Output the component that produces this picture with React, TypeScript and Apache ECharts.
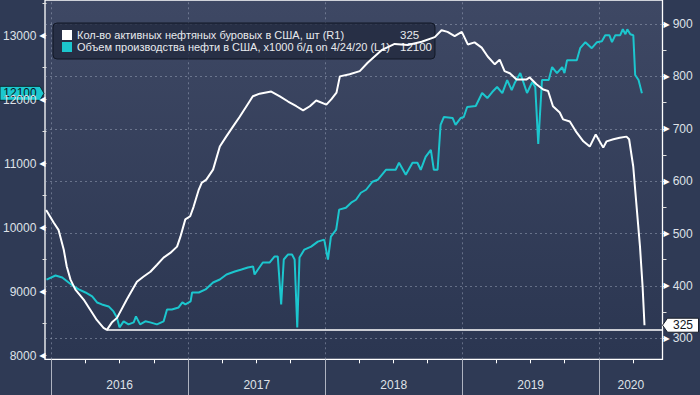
import React, { useEffect, useRef } from 'react';
import * as echarts from 'echarts';

// ---------- DATA ----------
const RIG_NAME = 'Кол-во активных нефтяных буровых в США, шт (R1)';
const PROD_NAME = 'Объем производства нефти в США, x1000 б/д on 4/24/20 (L1)';

const rigDates = [
  '2015-12-19', '2016-01-08', '2016-01-21', '2016-02-04', '2016-02-12', '2016-02-22', '2016-03-06', '2016-03-28',
  '2016-04-15', '2016-05-02', '2016-05-20', '2016-05-29', '2016-06-11', '2016-06-25', '2016-07-21', '2016-08-17',
  '2016-09-04', '2016-09-22', '2016-10-09', '2016-10-27', '2016-11-14', '2016-12-02', '2016-12-11', '2016-12-24',
  '2017-01-06', '2017-01-15', '2017-01-29', '2017-02-06', '2017-02-18', '2017-03-08', '2017-03-26', '2017-04-12',
  '2017-04-30', '2017-05-18', '2017-06-05', '2017-06-22', '2017-07-10', '2017-08-10', '2017-09-02', '2017-09-24',
  '2017-10-16', '2017-11-03', '2017-11-21', '2017-12-08', '2018-01-04', '2018-01-17', '2018-01-31', '2018-02-09',
  '2018-03-07', '2018-04-03', '2018-04-24', '2018-05-31', '2018-07-05', '2018-08-09', '2018-09-15', '2018-10-20',
  '2018-11-07', '2018-11-23', '2018-12-12', '2018-12-31', '2019-01-16', '2019-02-03', '2019-02-22', '2019-03-10',
  '2019-03-29', '2019-04-11', '2019-04-24', '2019-05-08', '2019-05-26', '2019-06-21', '2019-06-30', '2019-07-18',
  '2019-08-05', '2019-08-18', '2019-08-31', '2019-09-18', '2019-09-27', '2019-10-15', '2019-11-02', '2019-11-20',
  '2019-12-07', '2019-12-23', '2020-01-12', '2020-01-21', '2020-02-08', '2020-02-25', '2020-03-14', '2020-03-21',
  '2020-04-01', '2020-04-10', '2020-04-19', '2020-04-26', '2020-05-01'
];
const rigValues = [
  545, 521, 507, 469, 437, 412, 393, 374,
  354, 335, 320, 316, 330, 339, 374, 408,
  418, 427, 440, 454, 463, 475, 494, 527,
  533, 551, 584, 597, 603, 622, 666, 685,
  704, 723, 743, 762, 767, 771, 762, 752,
  743, 735, 743, 754, 746, 756, 769, 800,
  804, 810, 826, 850, 862, 860, 866, 875,
  888, 885, 877, 885, 861, 865, 855, 838,
  823, 832, 810, 806, 794, 794, 798, 785,
  775, 772, 743, 731, 718, 714, 693, 676,
  666, 689, 664, 676, 680, 683, 685, 680,
  628, 551, 475, 398, 325
];

const prodDates = [
  '2015-12-16', '2016-01-09', '2016-01-27', '2016-02-13', '2016-02-27', '2016-03-11', '2016-03-29', '2016-04-16',
  '2016-04-29', '2016-05-12', '2016-05-30', '2016-06-12', '2016-06-21', '2016-06-28', '2016-07-09', '2016-07-22',
  '2016-08-05', '2016-08-11', '2016-08-22', '2016-09-05', '2016-09-18', '2016-10-06', '2016-10-24', '2016-11-02',
  '2016-11-15', '2016-12-03', '2016-12-13', '2016-12-21', '2017-01-04', '2017-01-08', '2017-01-26', '2017-02-13',
  '2017-03-05', '2017-03-23', '2017-04-10', '2017-05-02', '2017-05-20', '2017-06-06', '2017-06-20', '2017-06-24',
  '2017-07-03', '2017-07-16', '2017-08-03', '2017-08-16', '2017-08-25', '2017-09-03', '2017-09-10', '2017-09-21',
  '2017-10-02', '2017-10-09', '2017-10-16', '2017-10-22', '2017-11-04', '2017-11-22', '2017-12-10', '2017-12-27',
  '2018-01-06', '2018-01-14', '2018-01-28', '2018-02-05', '2018-02-23', '2018-03-09', '2018-03-22', '2018-04-04',
  '2018-04-18', '2018-05-05', '2018-05-19', '2018-06-10', '2018-07-06', '2018-07-15', '2018-08-02', '2018-08-20',
  '2018-09-02', '2018-09-11', '2018-09-24', '2018-10-08', '2018-10-16', '2018-10-26', '2018-11-03', '2018-11-12',
  '2018-12-05', '2018-12-13', '2018-12-27', '2019-01-04', '2019-01-13', '2019-02-05', '2019-02-22', '2019-03-08',
  '2019-03-21', '2019-04-03', '2019-04-17', '2019-04-30', '2019-05-12', '2019-05-20', '2019-06-04', '2019-06-22',
  '2019-07-06', '2019-07-14', '2019-07-22', '2019-08-01', '2019-08-19', '2019-08-28', '2019-09-10', '2019-09-24',
  '2019-09-30', '2019-10-07', '2019-11-02', '2019-11-11', '2019-11-25', '2019-12-12', '2019-12-26', '2020-01-08',
  '2020-01-17', '2020-01-28', '2020-02-04', '2020-02-13', '2020-02-26', '2020-03-04', '2020-03-11', '2020-03-16',
  '2020-03-24', '2020-04-01', '2020-04-06', '2020-04-15', '2020-04-24'
];
const prodValues = [
  9190, 9253, 9222, 9144, 9082, 9035, 8988, 8926,
  8832, 8801, 8770, 8692, 8598, 8443, 8537, 8490,
  8521, 8614, 8490, 8537, 8521, 8490, 8537, 8723,
  8723, 8754, 8832, 8801, 8848, 8988, 8988, 9035,
  9144, 9191, 9269, 9315, 9347, 9378, 9393, 9269,
  9347, 9456, 9456, 9549, 9549, 8801, 9503, 9581,
  9581, 9503, 8443, 9534, 9658, 9705, 9783, 9814,
  9503, 9861, 9970, 10282, 10313, 10391, 10437, 10546,
  10593, 10718, 10749, 10905, 10905, 11014, 10827, 11014,
  11014, 10905, 11107, 11216, 10905, 10905, 11606, 11730,
  11715, 11606, 11715, 11730, 11886, 11902, 12104, 12026,
  12120, 12198, 12104, 12307, 12150, 12260, 12416, 12104,
  12276, 12198, 11310, 12307, 12307, 12510, 12416, 12510,
  12416, 12618, 12618, 12805, 12899, 12805, 12899, 12914,
  13008, 13008, 12899, 13008, 13008, 13101, 13023, 13101,
  13023, 13008, 12385, 12307, 12100
];

const RIG_LAST = 325;
const PROD_LAST = 12100;
const RIG_LOW_DATE = '2016-05-29';
const RIG_LOW = 316;

const X_MIN = '2015-12-16';
const X_MAX = '2020-06-18';
const yearStarts = ['2016-01-01', '2017-01-01', '2018-01-01', '2019-01-01', '2020-01-01', '2021-01-01'];

const LEFT_MIN = 8000;
const LEFT_MAX = 13500;
const LEFT_STEP = 500;
const LEFT_LABEL_STEP = 1000;
const RIGHT_MIN = 300;
const RIGHT_MAX = 900;
const RIGHT_STEP = 100;

// ---------- helpers ----------
const ts = (s: string) => {
  const [y, m, d] = s.split('-').map(Number);
  return Date.UTC(y, m - 1, d);
};
const FONT = "'Liberation Sans', Arial, sans-serif";
const LABEL_COLOR = '#dfe2e8';
const GRID_LINE = 'rgba(170,180,200,0.45)';
const LEGEND_FS = 11;

export default function App() {
  const ref = useRef<HTMLDivElement>(null);

  useEffect(() => {
    document.body.style.margin = '0';
    document.body.style.background = '#2f3a55';
    if (!ref.current) return;
    const chart = echarts.init(ref.current, undefined, { renderer: 'svg' });

    const xMin = ts(X_MIN);
    const xMax = ts(X_MAX);
    const yStarts = yearStarts.map(ts);
    const yearTicks = yStarts.filter((t) => t >= xMin && t <= xMax);
    const quarterTicks: number[] = [];
    yearStarts.forEach((s) => {
      const y = Number(s.slice(0, 4));
      [0, 3, 6, 9].forEach((m) => {
        const t = Date.UTC(y, m, 1);
        if (t > xMin && t < xMax) quarterTicks.push(t);
      });
    });
    const yearMids: number[] = [];
    for (let i = 0; i < yStarts.length - 1; i++) {
      const a = Math.max(yStarts[i], xMin);
      const b = Math.min(yStarts[i + 1], xMax);
      if (b > a) yearMids.push((a + b) / 2);
    }

    const rigData = rigDates.map((d, i) => [ts(d), rigValues[i]]);
    const prodData = prodDates.map((d, i) => [ts(d), prodValues[i]]);

    const plotBg = new echarts.graphic.LinearGradient(0, 0, 0, 1, [
      { offset: 0, color: '#3e4864' },
      { offset: 1, color: '#2b3651' },
    ]);

    const hiddenX = (gridIndex: number) => ({
      type: 'value', gridIndex, min: xMin, max: xMax, show: false,
    });

    const option: any = {
      animation: false,
      backgroundColor: '#2f3a55',
      textStyle: { fontFamily: FONT },
      grid: [
        { left: 45, right: 37.5, top: 3.7, bottom: 39.3, show: false },
        { left: 45, right: 37.5, top: 24, bottom: 56.7, show: false },
        {
          left: 45, right: 37.5, top: -5, bottom: 35.7, show: true,
          borderColor: '#ffffff', borderWidth: 1.3, backgroundColor: plotBg,
        },
      ],
      xAxis: [
        hiddenX(0),
        hiddenX(1),
        {
          type: 'value', gridIndex: 2, min: xMin, max: xMax, position: 'bottom',
          axisLine: { show: false },
          axisTick: { show: true, length: 4, inside: false, customValues: quarterTicks, lineStyle: { color: '#ffffff', width: 1 } },
          axisLabel: { show: false },
          splitLine: { show: false },
        },
        {
          type: 'value', gridIndex: 2, min: xMin, max: xMax, position: 'bottom',
          axisLine: { show: false },
          axisTick: { show: true, length: 36, inside: false, customValues: yearTicks, lineStyle: { color: '#aeb3c0', width: 1 } },
          axisLabel: {
            show: true, customValues: yearMids, margin: 20, color: LABEL_COLOR, fontSize: 12, fontFamily: FONT,
            formatter: (v: number) => String(new Date(v).getUTCFullYear()),
          },
          splitLine: { show: false },
        },
        {
          type: 'value', gridIndex: 2, min: xMin, max: xMax, position: 'bottom',
          axisLine: { show: false },
          axisTick: { show: true, length: 364, inside: true, customValues: yearTicks, lineStyle: { color: GRID_LINE, width: 1, type: [2, 3] } },
          axisLabel: { show: false },
          splitLine: { show: false },
        },
      ],
      yAxis: [
        {
          type: 'value', gridIndex: 0, position: 'left', min: LEFT_MIN, max: LEFT_MAX, interval: LEFT_STEP,
          axisLine: { show: false },
          axisTick: { show: true, length: 4, lineStyle: { color: '#e0e0e0' } },
          splitLine: { show: false },
          axisLabel: {
            margin: 1, color: LABEL_COLOR, fontSize: 12, fontFamily: FONT,
            formatter: (v: number) => (v % LEFT_LABEL_STEP === 0 ? `${v}{t|◀}` : ''),
            rich: { t: { fontSize: 8, fontFamily: 'DejaVu Sans', color: '#ffffff', padding: [0, 0, 0, 3], verticalAlign: 'middle' } },
          },
        },
        {
          type: 'value', gridIndex: 1, position: 'right', min: RIGHT_MIN, max: RIGHT_MAX, interval: RIGHT_STEP,
          axisLine: { show: false },
          axisTick: { show: true, length: 4, lineStyle: { color: '#e0e0e0' } },
          minorTick: { show: true, splitNumber: 2, length: 4, lineStyle: { color: '#e0e0e0' } },
          splitLine: { show: true, lineStyle: { color: GRID_LINE, type: [2, 3], width: 1 } },
          axisLabel: {
            margin: 1, color: LABEL_COLOR, fontSize: 12, fontFamily: FONT,
            formatter: (v: number) => `{t|▶}${v}`,
            rich: { t: { fontSize: 8, fontFamily: 'DejaVu Sans', color: '#ffffff', padding: [0, 3, 0, 0], verticalAlign: 'middle' } },
          },
        },
        { type: 'value', gridIndex: 2, min: 0, max: 1, show: false },
      ],
      legend: {
        left: 53, top: 23, orient: 'vertical', selectedMode: false,
        padding: [6, 3, 6, 9], itemGap: 0, itemWidth: 10, itemHeight: 10, icon: 'rect',
        backgroundColor: 'rgba(33,41,61,0.78)', borderColor: '#121826', borderWidth: 1, borderRadius: 4,
        data: [RIG_NAME, PROD_NAME],
        formatter: (name: string) => `{n|${name}}{v|${name === RIG_NAME ? RIG_LAST : PROD_LAST}}`,
        textStyle: {
          color: '#e8eaee', fontSize: LEGEND_FS, fontFamily: FONT,
          rich: {
            n: { width: 323, lineHeight: 13, fontSize: LEGEND_FS, fontFamily: FONT, color: '#e8eaee' },
            v: { width: 30, lineHeight: 13, fontSize: LEGEND_FS + 0.5, fontFamily: FONT, color: '#e8eaee' },
          },
        },
      },
      series: [
        {
          name: PROD_NAME, type: 'line', xAxisIndex: 0, yAxisIndex: 0, data: prodData,
          showSymbol: false, symbol: 'none', color: '#1cc6ce',
          lineStyle: { color: '#1cc6ce', width: 2 }, z: 3,
        },
        {
          name: RIG_NAME, type: 'line', xAxisIndex: 1, yAxisIndex: 1, data: rigData,
          showSymbol: false, symbol: 'none', color: '#ffffff',
          lineStyle: { color: '#ffffff', width: 2 }, z: 4,
          markLine: {
            silent: true, symbol: ['none', 'none'], label: { show: false },
            lineStyle: { color: '#ffffff', width: 1.5, type: 'solid' },
            data: [[{ coord: [ts(RIG_LOW_DATE), RIG_LOW] }, { coord: [xMax, RIG_LOW] }]],
          },
        },
      ],
    };

    chart.setOption(option);

    const py = chart.convertToPixel({ yAxisIndex: 0 } as any, PROD_LAST) as unknown as number;
    const ry = chart.convertToPixel({ yAxisIndex: 1 } as any, RIG_LAST) as unknown as number;
    const rx = chart.convertToPixel({ xAxisIndex: 1 } as any, xMax) as unknown as number;

    chart.setOption({
      graphic: [
        {
          type: 'group', x: 0, y: py, z: 100,
          children: [
            {
              type: 'polygon',
              shape: { points: [[0, -7], [40, -7], [44, 0], [40, 7], [0, 7]] },
              style: { fill: '#1cc8cf', stroke: '#0b2a30', lineWidth: 1 },
            },
            {
              type: 'text', x: 20, y: 0,
              style: { text: String(PROD_LAST), fill: '#10161e', font: `12px ${FONT}`, align: 'center', verticalAlign: 'middle' },
            },
          ],
        },
        {
          type: 'group', x: rx, y: ry, z: 100,
          children: [
            {
              type: 'polygon',
              shape: { points: [[0, 0], [5, -7], [36, -7], [36, 7], [5, 7]] },
              style: { fill: '#ffffff', stroke: '#1a1f2a', lineWidth: 1 },
            },
            {
              type: 'text', x: 20.5, y: 0,
              style: { text: String(RIG_LAST), fill: '#10161e', font: `12px ${FONT}`, align: 'center', verticalAlign: 'middle' },
            },
          ],
        },
      ],
    });

    return () => chart.dispose();
  }, []);

  return (
    <div
      ref={ref}
      style={{ position: 'fixed', left: 0, top: 0, width: 700, height: 395 }}
    />
  );
}
